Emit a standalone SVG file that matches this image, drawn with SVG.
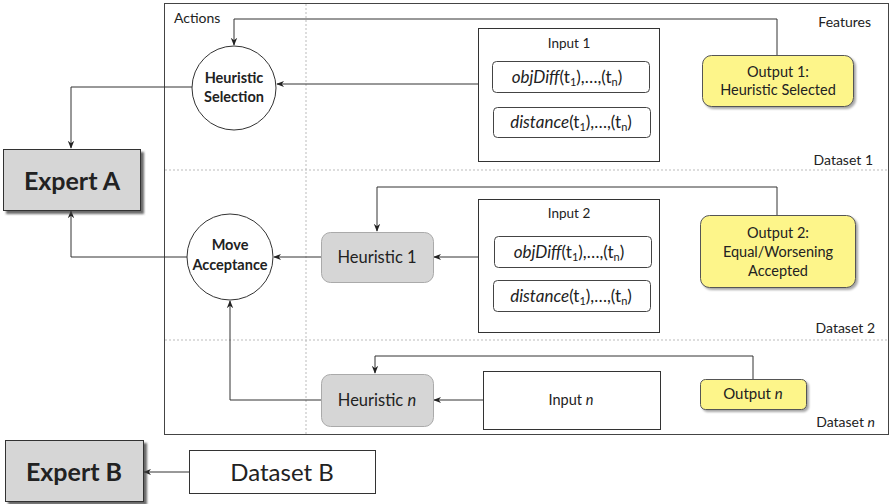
<svg xmlns="http://www.w3.org/2000/svg" width="891" height="504" viewBox="0 0 891 504">
<defs>
<marker id="arr" viewBox="0 0 10 10" refX="9" refY="5" markerWidth="8" markerHeight="8" orient="auto" markerUnits="userSpaceOnUse">
<path d="M0,1 L10,5 L0,9 L3,5 z" fill="#222"/>
</marker>
<filter id="sh" x="-10%" y="-10%" width="130%" height="140%">
<feDropShadow dx="2" dy="2" stdDeviation="1.2" flood-color="#000" flood-opacity="0.35"/>
</filter>
<filter id="shd" x="-10%" y="-10%" width="130%" height="140%">
<feDropShadow dx="3" dy="3" stdDeviation="0.8" flood-color="#444" flood-opacity="0.8"/>
</filter>
</defs>
<style>
text{font-family:Lato,"Liberation Sans",sans-serif;fill:#222;}
.c{text-anchor:middle;}
.r{text-anchor:end;}
.lbl{font-size:14px;}
.b{font-weight:bold;}
.box{fill:#fff;stroke:#333;stroke-width:1;}
.in{fill:#fff;stroke:#444;stroke-width:1;}
.heur{fill:#d6d6d6;stroke:#aaa;stroke-width:1;}
.out{fill:#fdf58a;stroke:#555;stroke-width:1;}
.exp{fill:#d6d6d6;stroke:#333;stroke-width:1;}
.circ{fill:#fff;stroke:#333;stroke-width:1;}
.con{fill:none;stroke:#333;stroke-width:1;}
.div{fill:none;stroke:#bbb;stroke-width:1;stroke-dasharray:2,2;}
.fx{font-size:17px;}
.sub{font-size:11px;}
</style>
<rect width="891" height="504" fill="#fff"/>

<g id="frame">
<rect x="164.5" y="3.5" width="724" height="431" fill="#fff" stroke="#444" stroke-width="1"/>
<line class="div" x1="165" y1="170" x2="888" y2="170"/>
<line class="div" x1="165" y1="340" x2="888" y2="340"/>
<line class="div" x1="306" y1="4" x2="306" y2="434"/>
<text class="lbl" x="174" y="23">Actions</text>
<text class="lbl r" x="871" y="27">Features</text>
<text class="lbl r" x="873" y="165">Dataset 1</text>
<text class="lbl r" x="875" y="333">Dataset 2</text>
<text class="lbl r" x="875" y="427">Dataset <tspan font-style="italic">n</tspan></text>
</g>

<g id="connectors">
<polyline class="con" points="192,87 71,87 71,148" marker-end="url(#arr)"/>
<polyline class="con" points="187,257 71,257 71,211" marker-end="url(#arr)"/>
<polyline class="con" points="777,55 777,19 234,19 234,45" marker-end="url(#arr)"/>
<line class="con" x1="478" y1="84" x2="277" y2="84" marker-end="url(#arr)"/>
<line class="con" x1="478" y1="257" x2="434" y2="257" marker-end="url(#arr)"/>
<line class="con" x1="321" y1="257" x2="274" y2="257" marker-end="url(#arr)"/>
<polyline class="con" points="777,215 777,187 377,187 377,231" marker-end="url(#arr)"/>
<line class="con" x1="483" y1="400" x2="434" y2="400" marker-end="url(#arr)"/>
<polyline class="con" points="321,400 230,400 230,301" marker-end="url(#arr)"/>
<polyline class="con" points="753,379 753,356 375,356 375,373" marker-end="url(#arr)"/>
<line class="con" x1="189" y1="472" x2="144" y2="472" marker-end="url(#arr)"/>
</g>

<g id="heuristic-selection">
<circle class="circ" cx="234" cy="88" r="42"/>
<text class="c b" x="234" y="83" font-size="14.5">Heuristic</text>
<text class="c b" x="234" y="102" font-size="14.5">Selection</text>
</g>

<g id="move-acceptance">
<circle class="circ" cx="230" cy="257" r="43"/>
<text class="c b" x="230" y="250" font-size="14.5">Move</text>
<text class="c b" x="230" y="270" font-size="14.5">Acceptance</text>
</g>

<g id="expert-a">
<rect class="exp" x="3.5" y="149.5" width="137" height="61" filter="url(#shd)"/>
<text class="c b" x="72" y="190" font-size="25">Expert A</text>
</g>

<g id="expert-b">
<rect class="exp" x="5.5" y="440.5" width="138" height="61" filter="url(#shd)"/>
<text class="c b" x="74" y="481" font-size="25">Expert B</text>
</g>

<g id="dataset-b">
<rect class="box" x="189.5" y="450.5" width="186" height="43"/>
<text class="c" x="282" y="481" font-size="24">Dataset B</text>
</g>

<g id="input-1">
<rect class="box" x="478.5" y="28.5" width="181" height="133"/>
<text class="c" x="569" y="48" font-size="13.5">Input 1</text>
<rect class="in" x="492.5" y="61.5" width="157" height="31" rx="4"/>
<text class="c fx" x="567" y="83"><tspan font-style="italic">objDiff</tspan>(t<tspan class="sub" dy="3">1</tspan><tspan dy="-3">),…,(t</tspan><tspan class="sub" dy="3">n</tspan><tspan dy="-3">)</tspan></text>
<rect class="in" x="493.5" y="107.5" width="157" height="30" rx="4"/>
<text class="c fx" x="571" y="128"><tspan font-style="italic">distance</tspan>(t<tspan class="sub" dy="3">1</tspan><tspan dy="-3">),…,(t</tspan><tspan class="sub" dy="3">n</tspan><tspan dy="-3">)</tspan></text>
</g>

<g id="output-1">
<rect class="out" x="702.5" y="55.5" width="151" height="51" rx="9" filter="url(#sh)"/>
<text class="c" x="778" y="77" font-size="14.5">Output 1:</text>
<text class="c" x="778" y="95" font-size="14.5">Heuristic Selected</text>
</g>

<g id="input-2">
<rect class="box" x="478.5" y="199.5" width="181" height="133"/>
<text class="c" x="569" y="218" font-size="13.5">Input 2</text>
<rect class="in" x="494.5" y="236.5" width="157" height="31" rx="4"/>
<text class="c fx" x="569" y="258"><tspan font-style="italic">objDiff</tspan>(t<tspan class="sub" dy="3">1</tspan><tspan dy="-3">),…,(t</tspan><tspan class="sub" dy="3">n</tspan><tspan dy="-3">)</tspan></text>
<rect class="in" x="493.5" y="280.5" width="157" height="31" rx="4"/>
<text class="c fx" x="571" y="302"><tspan font-style="italic">distance</tspan>(t<tspan class="sub" dy="3">1</tspan><tspan dy="-3">),…,(t</tspan><tspan class="sub" dy="3">n</tspan><tspan dy="-3">)</tspan></text>
</g>

<g id="heuristic-1">
<rect class="heur" x="321.5" y="232.5" width="112" height="50" rx="9"/>
<text class="c" x="377" y="263" font-size="16.5">Heuristic 1</text>
</g>

<g id="output-2">
<rect class="out" x="700.5" y="215.5" width="155" height="72" rx="9" filter="url(#sh)"/>
<text class="c" x="778" y="238" font-size="14.5">Output 2:</text>
<text class="c" x="778" y="257" font-size="14.5">Equal/Worsening</text>
<text class="c" x="778" y="276" font-size="14.5">Accepted</text>
</g>

<g id="heuristic-n">
<rect class="heur" x="321.5" y="374.5" width="112" height="52" rx="9"/>
<text class="c" x="377" y="406" font-size="16.5">Heuristic <tspan font-style="italic">n</tspan></text>
</g>

<g id="input-n">
<rect class="box" x="483.5" y="371.5" width="177" height="58"/>
<text class="c" x="571" y="405" font-size="14.5">Input <tspan font-style="italic">n</tspan></text>
</g>

<g id="output-n">
<rect class="out" x="700.5" y="379.5" width="106" height="30" rx="5" filter="url(#sh)"/>
<text class="c" x="753" y="399" font-size="15">Output <tspan font-style="italic">n</tspan></text>
</g>
</svg>
